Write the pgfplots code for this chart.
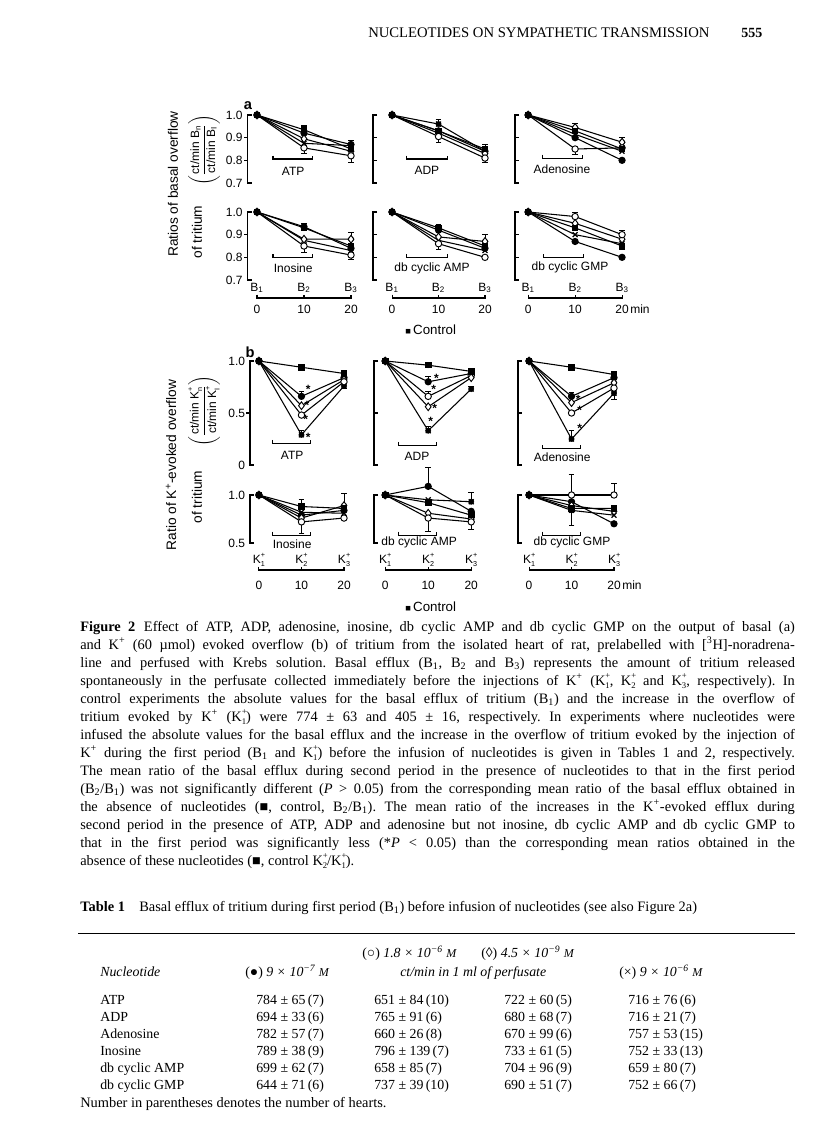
\documentclass[border=0pt]{standalone}
\usepackage{fontspec}
\setmainfont{Liberation Serif}
\setsansfont{Liberation Sans}
\usepackage{pgfplots}
\pgfplotsset{compat=1.18}

% K^+ with a stacked subscript, B with subscript
\newcommand\Kp[1]{K\rlap{\raisebox{0.95ex}{\scalebox{0.6}{+}}}\raisebox{-0.55ex}{\scalebox{0.6}{#1}}}
\newcommand\Bs[1]{B\textsubscript{#1}}

\pgfplotsset{
  pnl/.style={scale only axis, hide axis, clip=false, xmax=20, anchor=south west},
  pa/.style={pnl, ymin=0.7, ymax=1.0, height=51pt},
  pbt/.style={pnl, ymin=0, ymax=1, height=78pt},
  pbb/.style={pnl, ymin=0.5, ymax=1, height=36pt},
  lnbase/.style={black, line width=0.8pt},
  sq/.style={lnbase, mark=square*, mark size=2.1pt, mark options={solid, fill=black}},
  fc/.style={lnbase, mark=*, mark size=2.3pt, mark options={solid, fill=black}},
  oc/.style={lnbase, mark=*, mark size=2.4pt, mark options={solid, fill=white, line width=0.7pt}},
  dm/.style={lnbase, mark=diamond*, mark size=2.9pt, mark options={solid, fill=white, line width=0.7pt}},
  xm/.style={lnbase, mark=x, mark size=2.6pt, mark options={solid, line width=0.9pt}},
  eu/.style={only marks, mark=none, forget plot, error bars/.cd, y dir=plus, y explicit,
    error bar style={black, line width=0.6pt},
    error mark options={black, rotate=90, mark size=2.2pt, line width=0.6pt}},
  ed/.style={only marks, mark=none, forget plot, error bars/.cd, y dir=minus, y explicit,
    error bar style={black, line width=0.6pt},
    error mark options={black, rotate=90, mark size=2.2pt, line width=0.6pt}},
}
\tikzset{
  axln/.style={line width=0.8pt, black},
  lbl/.style={font=\sffamily\fontsize{9}{10}\selectfont, inner sep=0pt},
  ylab/.style={font=\sffamily\fontsize{10.3}{12}\selectfont, rotate=90, inner sep=0pt},
  captx/.style={anchor=base west, inner sep=0pt, font=\frenchspacing\fontsize{10.8}{12}\selectfont},
  tabx/.style={anchor=base west, inner sep=0pt, font=\fontsize{10.4}{12}\selectfont},
  astr/.style={font=\sffamily\bfseries\fontsize{9}{9}\selectfont, inner sep=0pt},
}
% y bracket: xmin, ymin, ymax
\newcommand\brk[3]{\draw[axln] ([xshift=3pt]axis cs:#1,#3) -- (axis cs:#1,#3) -- (axis cs:#1,#2) -- ([xshift=3pt]axis cs:#1,#2);}
\newcommand\tk[2]{\draw[axln] (axis cs:#1,#2) -- ([xshift=3pt]axis cs:#1,#2);}
\newcommand\tkl[2]{\draw[axln] (axis cs:#1,#2) -- ([xshift=-3pt]axis cs:#1,#2);}
% treatment bar: x1, x2, y, label x, label y, label
\newcommand\treat[6]{\draw[axln] ([yshift=2.5pt]axis cs:#1,#3) -- (axis cs:#1,#3) -- (axis cs:#2,#3) -- ([yshift=2.5pt]axis cs:#2,#3);
  \node[lbl] at (axis cs:#4,#5) {#6};}
% time line under a row: ymin, line shift, label shift, number shift, label macro
\newcommand\tline[5]{%
  \draw[axln] ([yshift=-#2+2.5pt]axis cs:0,#1) -- ([yshift=-#2]axis cs:0,#1) -- ([yshift=-#2]axis cs:20,#1) -- ([yshift=-#2+2.5pt]axis cs:20,#1);
  \draw[axln] ([yshift=-#2]axis cs:10,#1) -- ([yshift=-#2+2.5pt]axis cs:10,#1);
  \node[lbl] at ([yshift=-#4]axis cs:0,#1) {0};
  \node[lbl] at ([yshift=-#4]axis cs:10,#1) {10};
  \node[lbl] at ([yshift=-#4]axis cs:20,#1) {20};
  \node[lbl] at ([yshift=-#3]axis cs:0,#1) {#5{1}};
  \node[lbl] at ([yshift=-#3]axis cs:10,#1) {#5{2}};
  \node[lbl] at ([yshift=-#3]axis cs:20,#1) {#5{3}};}

\begin{document}
\begin{tikzpicture}[x=0.75pt,y=-0.75pt]
\path[use as bounding box] (0,0) rectangle (816,1121);

% running head
\node[anchor=base west, inner sep=0pt, font=\fontsize{11}{12}\selectfont] at (368,37) {NUCLEOTIDES ON SYMPATHETIC TRANSMISSION};
\node[anchor=base west, inner sep=0pt, font=\bfseries\fontsize{10.5}{12}\selectfont] at (741,37) {555};

% ---------------- panel a ----------------
\node[font=\sffamily\bfseries\fontsize{11}{12}\selectfont] at (248,106) {a};
\node[ylab] at (173,184) {Ratios of basal overflow};
\node[ylab] at (197,232) {of tritium};
\node[ylab, font=\sffamily\fontsize{9}{10}\selectfont] at (204,150)
  {$\left(\displaystyle\frac{\mbox{ct/min B\textsubscript{n}}}{\mbox{ct/min B\textsubscript{I}}}\right)$};

% ATP
\begin{axis}[pa, xmin=-2, width=77.55pt, at={(185.7pt,-137.25pt)}]
\brk{-2}{0.7}{1.0}\tkl{-2}{0.9}\tkl{-2}{0.8}
\node[lbl, anchor=east] at ([xshift=-3.5pt]axis cs:-2,1.0) {1.0};
\node[lbl, anchor=east] at ([xshift=-3.5pt]axis cs:-2,0.9) {0.9};
\node[lbl, anchor=east] at ([xshift=-3.5pt]axis cs:-2,0.8) {0.8};
\node[lbl, anchor=east] at ([xshift=-3.5pt]axis cs:-2,0.7) {0.7};
\addplot[eu] coordinates {(10,0.935) +- (0,0.018) (20,0.87) +- (0,0.02)};
\addplot[ed] coordinates {(10,0.855) +- (0,0.025) (20,0.82) +- (0,0.03)};
\addplot[fc] coordinates {(0,1) (10,0.92) (20,0.87)};
\addplot[xm] coordinates {(0,1) (10,0.875) (20,0.865)};
\addplot[dm] coordinates {(0,1) (10,0.895) (20,0.84)};
\addplot[oc] coordinates {(0,1) (10,0.855) (20,0.82)};
\addplot[sq] coordinates {(0,1) (10,0.935) (20,0.85)};
\treat{3.4}{11.9}{0.806}{7.7}{0.75}{ATP}
\end{axis}

% ADP
\begin{axis}[pa, xmin=-4.1, width=84pt, at={(279.75pt,-137.25pt)}]
\brk{-4.1}{0.7}{1.0}\tk{-4.1}{0.9}\tk{-4.1}{0.8}
\addplot[eu] coordinates {(10,0.96) +- (0,0.02) (20,0.85) +- (0,0.02)};
\addplot[ed] coordinates {(10,0.905) +- (0,0.025) (20,0.81) +- (0,0.02)};
\addplot[fc] coordinates {(0,1) (10,0.93) (20,0.84)};
\addplot[xm] coordinates {(0,1) (10,0.96) (20,0.84)};
\addplot[dm] coordinates {(0,1) (10,0.92) (20,0.83)};
\addplot[oc] coordinates {(0,1) (10,0.905) (20,0.81)};
\addplot[sq] coordinates {(0,1) (10,0.93) (20,0.85)};
\treat{3.2}{12}{0.806}{7.5}{0.755}{ADP}
\end{axis}

% Adenosine
\begin{axis}[pa, xmin=-2.8, width=80.3pt, at={(386.25pt,-137.25pt)}]
\brk{-2.8}{0.7}{1.0}\tk{-2.8}{0.9}\tk{-2.8}{0.8}
\addplot[eu] coordinates {(10,0.945) +- (0,0.02) (20,0.88) +- (0,0.02)};
\addplot[ed] coordinates {(10,0.85) +- (0,0.025)};
\addplot[fc] coordinates {(0,1) (10,0.90) (20,0.80)};
\addplot[xm] coordinates {(0,1) (10,0.915) (20,0.84)};
\addplot[dm] coordinates {(0,1) (10,0.945) (20,0.88)};
\addplot[oc] coordinates {(0,1) (10,0.85) (20,0.855)};
\addplot[sq] coordinates {(0,1) (10,0.93) (20,0.85)};
\treat{3}{11.5}{0.81}{7.2}{0.76}{Adenosine}
\end{axis}

% Inosine
\begin{axis}[pa, xmin=-2, width=77.55pt, at={(185.7pt,-210pt)}]
\brk{-2}{0.7}{1.0}\tkl{-2}{0.9}\tkl{-2}{0.8}
\node[lbl, anchor=east] at ([xshift=-3.5pt]axis cs:-2,1.0) {1.0};
\node[lbl, anchor=east] at ([xshift=-3.5pt]axis cs:-2,0.9) {0.9};
\node[lbl, anchor=east] at ([xshift=-3.5pt]axis cs:-2,0.8) {0.8};
\node[lbl, anchor=east] at ([xshift=-3.5pt]axis cs:-2,0.7) {0.7};
\addplot[eu] coordinates {(10,0.93) +- (0,0.02) (20,0.88) +- (0,0.03)};
\addplot[ed] coordinates {(10,0.85) +- (0,0.03) (20,0.81) +- (0,0.02)};
\addplot[fc] coordinates {(0,1) (10,0.935) (20,0.84)};
\addplot[xm] coordinates {(0,1) (10,0.875) (20,0.83)};
\addplot[dm] coordinates {(0,1) (10,0.88) (20,0.88)};
\addplot[oc] coordinates {(0,1) (10,0.85) (20,0.81)};
\addplot[sq] coordinates {(0,1) (10,0.93) (20,0.85)};
\treat{3.4}{11.9}{0.8}{7.7}{0.75}{Inosine}
\tline{0.7}{13.5pt}{6pt}{21.75pt}{\Bs}
\end{axis}

% db cyclic AMP
\begin{axis}[pa, xmin=-4.1, width=84pt, at={(279.75pt,-210pt)}]
\brk{-4.1}{0.7}{1.0}\tk{-4.1}{0.9}\tk{-4.1}{0.8}
\addplot[eu] coordinates {(10,0.93) +- (0,0.015) (20,0.87) +- (0,0.03)};
\addplot[ed] coordinates {(10,0.86) +- (0,0.025)};
\addplot[fc] coordinates {(0,1) (10,0.92) (20,0.84)};
\addplot[xm] coordinates {(0,1) (10,0.875) (20,0.83)};
\addplot[dm] coordinates {(0,1) (10,0.89) (20,0.87)};
\addplot[oc] coordinates {(0,1) (10,0.86) (20,0.80)};
\addplot[sq] coordinates {(0,1) (10,0.93) (20,0.85)};
\treat{3.2}{12}{0.8}{8.6}{0.75}{db cyclic AMP}
\tline{0.7}{13.5pt}{6pt}{21.75pt}{\Bs}
\end{axis}

% db cyclic GMP
\begin{axis}[pa, xmin=-2.8, width=80.3pt, at={(386.25pt,-210pt)}]
\brk{-2.8}{0.7}{1.0}\tk{-2.8}{0.9}\tk{-2.8}{0.8}
\addplot[eu] coordinates {(10,0.98) +- (0,0.02) (20,0.90) +- (0,0.02)};
\addplot[ed] coordinates {(20,0.85) +- (0,0.015)};
\addplot[fc] coordinates {(0,1) (10,0.87) (20,0.80)};
\addplot[xm] coordinates {(0,1) (10,0.90) (20,0.86)};
\addplot[dm] coordinates {(0,1) (10,0.95) (20,0.88)};
\addplot[oc] coordinates {(0,1) (10,0.98) (20,0.90)};
\addplot[sq] coordinates {(0,1) (10,0.93) (20,0.85)};
\treat{3.2}{11.7}{0.8}{8.9}{0.755}{db cyclic GMP}
\tline{0.7}{13.5pt}{6pt}{21.75pt}{\Bs}
\node[lbl, anchor=west] at ([yshift=-21.75pt, xshift=6pt]axis cs:20,0.7) {min};
\end{axis}

\node[anchor=west, inner sep=0pt, font=\sffamily\fontsize{10}{12}\selectfont] at (405,330) {{\fontsize{7}{7}\selectfont■}\,Control};

% ---------------- panel b ----------------
\node[font=\sffamily\bfseries\fontsize{11}{12}\selectfont] at (250,352) {b};
\node[ylab] at (171,465) {Ratio of K\textsuperscript{+}-evoked overflow};
\node[ylab] at (197,497) {of tritium};
\node[ylab, font=\sffamily\fontsize{9}{10}\selectfont] at (204,411)
  {$\left(\displaystyle\frac{\mbox{ct/min \Kp{n}}}{\mbox{ct/min \Kp{I}}}\right)$};

% ATP
\begin{axis}[pbt, xmin=-2.1, width=70.5pt, at={(187.5pt,-348.75pt)}]
\brk{-2.1}{0}{1}\tkl{-2.1}{0.5}
\node[lbl, anchor=east] at ([xshift=-3.5pt]axis cs:-2.1,1) {1.0};
\node[lbl, anchor=east] at ([xshift=-3.5pt]axis cs:-2.1,0.5) {0.5};
\node[lbl, anchor=east] at ([xshift=-3.5pt]axis cs:-2.1,0) {0};
\addplot[eu] coordinates {(10,0.94) +- (0,0.015) (20,0.88) +- (0,0.02) (10,0.66) +- (0,0.05) (10,0.29) +- (0,0.04)};
\addplot[ed] coordinates {(20,0.76) +- (0,0.02)};
\addplot[fc] coordinates {(0,1) (10,0.66) (20,0.84)};
\addplot[dm] coordinates {(0,1) (10,0.57) (20,0.82)};
\addplot[oc] coordinates {(0,1) (10,0.48) (20,0.80)};
\addplot[xm] coordinates {(0,1) (10,0.29) (20,0.76)};
\addplot[sq] coordinates {(0,1) (10,0.94) (20,0.88)};
\node[astr] at (axis cs:11.6,0.73) {*};
\node[astr] at (axis cs:11.3,0.57) {*};
\node[astr] at (axis cs:11.0,0.44) {*};
\node[astr] at (axis cs:11.6,0.27) {*};
\treat{3.1}{12.2}{0.21}{7.8}{0.096}{ATP}
\end{axis}

% ADP
\begin{axis}[pbt, xmin=-2.6, width=72.9pt, at={(280.5pt,-348.75pt)}]
\brk{-2.6}{0}{1}\tk{-2.6}{0.5}
\addplot[eu] coordinates {(10,0.96) +- (0,0.015) (10,0.80) +- (0,0.05) (10,0.66) +- (0,0.05) (10,0.33) +- (0,0.04) (20,0.90) +- (0,0.02) (20,0.73) +- (0,0.03)};
\addplot[fc] coordinates {(0,1) (10,0.80) (20,0.88)};
\addplot[oc] coordinates {(0,1) (10,0.66) (20,0.86)};
\addplot[dm] coordinates {(0,1) (10,0.56) (20,0.84)};
\addplot[xm] coordinates {(0,1) (10,0.33) (20,0.73)};
\addplot[sq] coordinates {(0,1) (10,0.96) (20,0.90)};
\node[astr] at (axis cs:11.9,0.83) {*};
\node[astr] at (axis cs:11.3,0.73) {*};
\node[astr] at (axis cs:11.5,0.54) {*};
\node[astr] at (axis cs:10.6,0.42) {*};
\treat{3}{11.9}{0.19}{7.4}{0.087}{ADP}
\end{axis}

% Adenosine
\begin{axis}[pbt, xmin=-2.6, width=72pt, at={(388.5pt,-348.75pt)}]
\brk{-2.6}{0}{1}\tk{-2.6}{0.5}
\addplot[eu] coordinates {(20,0.87) +- (0,0.02) (10,0.66) +- (0,0.04) (20,0.79) +- (0,0.03) (10,0.25) +- (0,0.08)};
\addplot[ed] coordinates {(20,0.69) +- (0,0.06)};
\addplot[fc] coordinates {(0,1) (10,0.66) (20,0.84)};
\addplot[dm] coordinates {(0,1) (10,0.60) (20,0.79)};
\addplot[oc] coordinates {(0,1) (10,0.50) (20,0.74)};
\addplot[xm] coordinates {(0,1) (10,0.25) (20,0.69)};
\addplot[sq] coordinates {(0,1) (10,0.94) (20,0.87)};
\node[astr] at (axis cs:11.6,0.63) {*};
\node[astr] at (axis cs:11.9,0.53) {*};
\node[astr] at (axis cs:11.9,0.35) {*};
\treat{3.1}{12.2}{0.16}{7.8}{0.077}{Adenosine}
\end{axis}

% Inosine
\begin{axis}[pbb, xmin=-2.1, width=70.5pt, at={(187.5pt,-407.25pt)}]
\brk{-2.1}{0.5}{1}
\node[lbl, anchor=east] at ([xshift=-3.5pt]axis cs:-2.1,1) {1.0};
\node[lbl, anchor=east] at ([xshift=-3.5pt]axis cs:-2.1,0.5) {0.5};
\addplot[eu] coordinates {(10,0.88) +- (0,0.07) (20,0.89) +- (0,0.13)};
\addplot[ed] coordinates {(10,0.72) +- (0,0.12)};
\addplot[fc] coordinates {(0,1) (10,0.79) (20,0.84)};
\addplot[xm] coordinates {(0,1) (10,0.82) (20,0.81)};
\addplot[dm] coordinates {(0,1) (10,0.76) (20,0.89)};
\addplot[oc] coordinates {(0,1) (10,0.72) (20,0.76)};
\addplot[sq] coordinates {(0,1) (10,0.88) (20,0.86)};
\treat{3.1}{12.2}{0.583}{7.8}{0.49}{Inosine}
\tline{0.5}{20.25pt}{12.75pt}{31.5pt}{\Kp}
\end{axis}

% db cyclic AMP
\begin{axis}[pbb, xmin=-2.6, width=72.9pt, at={(280.5pt,-407.25pt)}]
\brk{-2.6}{0.5}{1}
\addplot[eu] coordinates {(10,1.09) +- (0,0.20) (20,0.93) +- (0,0.10)};
\addplot[ed] coordinates {(10,0.76) +- (0,0.14) (20,0.72) +- (0,0.08)};
\addplot[fc] coordinates {(0,1) (10,1.09) (20,0.83)};
\addplot[xm] coordinates {(0,1) (10,0.95) (20,0.93)};
\addplot[dm] coordinates {(0,1) (10,0.81) (20,0.75)};
\addplot[oc] coordinates {(0,1) (10,0.76) (20,0.72)};
\addplot[sq] coordinates {(0,1) (10,0.92) (20,0.79)};
\treat{3}{11.9}{0.583}{7.9}{0.51}{db cyclic AMP}
\tline{0.5}{20.25pt}{12.75pt}{31.5pt}{\Kp}
\end{axis}

% db cyclic GMP
\begin{axis}[pbb, xmin=-2.6, width=72pt, at={(388.5pt,-407.25pt)}]
\brk{-2.6}{0.5}{1}
\addplot[eu] coordinates {(10,1.0) +- (0,0.21) (20,1.0) +- (0,0.12)};
\addplot[ed] coordinates {(10,0.84) +- (0,0.16)};
\addplot[fc] coordinates {(0,1) (10,0.93) (20,0.70)};
\addplot[xm] coordinates {(0,1) (10,0.84) (20,0.79)};
\addplot[dm] coordinates {(0,1) (10,0.89) (20,0.83)};
\addplot[oc] coordinates {(0,1) (10,1.0) (20,1.0)};
\addplot[sq] coordinates {(0,1) (10,0.86) (20,0.86)};
\treat{3.1}{12.2}{0.583}{10.1}{0.51}{db cyclic GMP}
\tline{0.5}{20.25pt}{12.75pt}{31.5pt}{\Kp}
\node[lbl, anchor=west] at ([yshift=-31.5pt, xshift=6pt]axis cs:20,0.5) {min};
\end{axis}

\node[anchor=west, inner sep=0pt, font=\sffamily\fontsize{10}{12}\selectfont] at (405,607) {{\fontsize{7}{7}\selectfont■}\,Control};

% ---------------- caption ----------------
\node[captx] at (80,631) {\makebox[536pt][s]{\textbf{Figure 2}\hspace{0.6em}Effect of ATP, ADP, adenosine, inosine, db cyclic AMP and db cyclic GMP on the output of basal (a)}};
\node[captx] at (80,649) {\makebox[536pt][s]{and K\textsuperscript{+} (60 µmol) evoked overflow (b) of tritium from the isolated heart of rat, prelabelled with [\textsuperscript{3}H]-noradrena-}};
\node[captx] at (80,667) {\makebox[536pt][s]{line and perfused with Krebs solution. Basal efflux (B\textsubscript{1}, B\textsubscript{2} and B\textsubscript{3}) represents the amount of tritium released}};
\node[captx] at (80,685) {\makebox[536pt][s]{spontaneously in the perfusate collected immediately before the injections of K\textsuperscript{+} (\Kp{1}, \Kp{2} and \Kp{3}, respectively). In}};
\node[captx] at (80,703) {\makebox[536pt][s]{control experiments the absolute values for the basal efflux of tritium (B\textsubscript{1}) and the increase in the overflow of}};
\node[captx] at (80,721) {\makebox[536pt][s]{tritium evoked by K\textsuperscript{+} (\Kp{1}) were 774 ± 63 and 405 ± 16, respectively. In experiments where nucleotides were}};
\node[captx] at (80,739) {\makebox[536pt][s]{infused the absolute values for the basal efflux and the increase in the overflow of tritium evoked by the injection of}};
\node[captx] at (80,757) {\makebox[536pt][s]{K\textsuperscript{+} during the first period (B\textsubscript{1} and \Kp{1}) before the infusion of nucleotides is given in Tables 1 and 2, respectively.}};
\node[captx] at (80,775) {\makebox[536pt][s]{The mean ratio of the basal efflux during second period in the presence of nucleotides to that in the first period}};
\node[captx] at (80,793) {\makebox[536pt][s]{(B\textsubscript{2}/B\textsubscript{1}) was not significantly different (\textit{P} > 0.05) from the corresponding mean ratio of the basal efflux obtained in}};
\node[captx] at (80,811) {\makebox[536pt][s]{the absence of nucleotides (■, control, B\textsubscript{2}/B\textsubscript{1}). The mean ratio of the increases in the K\textsuperscript{+}-evoked efflux during}};
\node[captx] at (80,829) {\makebox[536pt][s]{second period in the presence of ATP, ADP and adenosine but not inosine, db cyclic AMP and db cyclic GMP to}};
\node[captx] at (80,847) {\makebox[536pt][s]{that in the first period was significantly less (*\textit{P} < 0.05) than the corresponding mean ratios obtained in the}};
\node[captx] at (80,865) {absence of these nucleotides (■, control \Kp{2}/\Kp{1}).};

% ---------------- table 1 ----------------
\node[captx] at (80,911) {\textbf{Table 1}\hspace{1em}Basal efflux of tritium during first period (B\textsubscript{1}) before infusion of nucleotides (see also Figure 2a)};
\draw[line width=0.6pt] (78,933) -- (795,933);
\node[tabx] at (362,957) {(○) \textit{1.8 × 10\textsuperscript{−6} {\small M}}};
\node[tabx] at (481,957) {(◊) \textit{4.5 × 10\textsuperscript{−9} {\small M}}};
\node[tabx] at (100,976) {\textit{Nucleotide}};
\node[tabx] at (245,976) {(●) \textit{9 × 10\textsuperscript{−7} {\small M}}};
\node[tabx] at (400,976) {\textit{ct/min in 1 ml of perfusate}};
\node[tabx] at (619,976) {(×) \textit{9 × 10\textsuperscript{−6} {\small M}}};

\node[tabx] at (100,1004) {ATP};
\node[tabx] at (100,1021) {ADP};
\node[tabx] at (100,1038) {Adenosine};
\node[tabx] at (100,1055) {Inosine};
\node[tabx] at (100,1072) {db cyclic AMP};
\node[tabx] at (100,1089) {db cyclic GMP};

\node[tabx] at (256,1004) {784 ± 65\,(7)};
\node[tabx] at (256,1021) {694 ± 33\,(6)};
\node[tabx] at (256,1038) {782 ± 57\,(7)};
\node[tabx] at (256,1055) {789 ± 38\,(9)};
\node[tabx] at (256,1072) {699 ± 62\,(7)};
\node[tabx] at (256,1089) {644 ± 71\,(6)};

\node[tabx] at (374,1004) {651 ± 84\,(10)};
\node[tabx] at (374,1021) {765 ± 91\,(6)};
\node[tabx] at (374,1038) {660 ± 26\,(8)};
\node[tabx] at (374,1055) {796 ± 139\,(7)};
\node[tabx] at (374,1072) {658 ± 85\,(7)};
\node[tabx] at (374,1089) {737 ± 39\,(10)};

\node[tabx] at (504,1004) {722 ± 60\,(5)};
\node[tabx] at (504,1021) {680 ± 68\,(7)};
\node[tabx] at (504,1038) {670 ± 99\,(6)};
\node[tabx] at (504,1055) {733 ± 61\,(5)};
\node[tabx] at (504,1072) {704 ± 96\,(9)};
\node[tabx] at (504,1089) {690 ± 51\,(7)};

\node[tabx] at (628,1004) {716 ± 76\,(6)};
\node[tabx] at (628,1021) {716 ± 21\,(7)};
\node[tabx] at (628,1038) {757 ± 53\,(15)};
\node[tabx] at (628,1055) {752 ± 33\,(13)};
\node[tabx] at (628,1072) {659 ± 80\,(7)};
\node[tabx] at (628,1089) {752 ± 66\,(7)};

\node[captx] at (80,1107) {Number in parentheses denotes the number of hearts.};
\end{tikzpicture}
\end{document}
